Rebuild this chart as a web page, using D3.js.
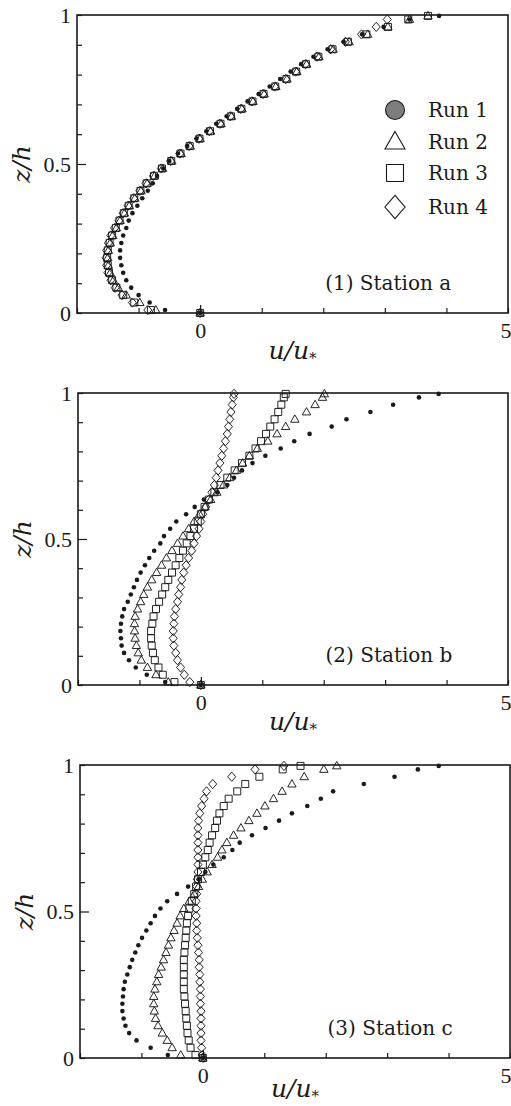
<!DOCTYPE html>
<html><head><meta charset="utf-8">
<script src="https://cdn.jsdelivr.net/npm/d3@7"></script>
<style>body{margin:0;background:#fff}svg{display:block}</style>
</head><body>
<svg id="c" width="511" height="1106"></svg>
<script>
// ---------------- data ----------------
const zLevels = [0, 0.01, 0.035, 0.06, 0.085, 0.11, 0.135, 0.16, 0.185, 0.21, 0.235, 0.26, 0.285, 0.31, 0.335, 0.36, 0.385, 0.41, 0.435, 0.46, 0.485, 0.51, 0.535, 0.56, 0.585, 0.61, 0.635, 0.66, 0.685, 0.71, 0.735, 0.76, 0.785, 0.81, 0.835, 0.86, 0.885, 0.91, 0.935, 0.96, 0.985, 0.997];
const runNames = ["Run 1", "Run 2", "Run 3", "Run 4"];
const stationLabels = ["(1) Station a", "(2) Station b", "(3) Station c"];
const xTicks = [-2, -1, 0, 1, 2, 3, 4, 5];
const xLabelledTicks = [0, 5];
const yTicks = [0, 0.1, 0.2, 0.3, 0.4, 0.5, 0.6, 0.7, 0.8, 0.9, 1];
const yLabelledTicks = [0, 0.5, 1];

// Station a
const a_run1 = [0, -0.57, -0.82, -1.0, -1.12, -1.2, -1.25, -1.28, -1.3, -1.3, -1.28, -1.25, -1.2, -1.16, -1.1, -1.02, -0.94, -0.85, -0.77, -0.7, -0.6, -0.5, -0.36, -0.21, -0.06, 0.1, 0.26, 0.43, 0.6, 0.77, 0.95, 1.13, 1.3, 1.47, 1.64, 1.84, 2.07, 2.33, 2.63, 2.98, 3.4, 3.88];
const a_run2 = [0, -0.72, -0.98, -1.2, -1.33, -1.41, -1.46, -1.49, -1.5, -1.49, -1.46, -1.42, -1.36, -1.3, -1.23, -1.15, -1.06, -0.96, -0.86, -0.74, -0.61, -0.46, -0.31, -0.16, 0.0, 0.17, 0.34, 0.51, 0.68, 0.86, 1.04, 1.23, 1.41, 1.57, 1.73, 1.93, 2.16, 2.42, 2.72, 3.05, 3.4, 3.7];
const a_run3 = [0, -0.8, -1.07, -1.25, -1.36, -1.43, -1.48, -1.5, -1.51, -1.5, -1.47, -1.43, -1.37, -1.31, -1.24, -1.16, -1.07, -0.97, -0.87, -0.75, -0.62, -0.47, -0.32, -0.17, -0.01, 0.16, 0.33, 0.5, 0.67, 0.85, 1.03, 1.22, 1.4, 1.56, 1.72, 1.92, 2.15, 2.4, 2.7, 3.05, 3.38, 3.7];
const a_run4 = [0, -0.85, -1.1, -1.27, -1.38, -1.45, -1.5, -1.52, -1.53, -1.52, -1.49, -1.45, -1.39, -1.32, -1.25, -1.17, -1.08, -0.98, -0.88, -0.76, -0.63, -0.48, -0.33, -0.18, -0.02, 0.15, 0.32, 0.49, 0.66, 0.84, 1.02, 1.21, 1.39, 1.55, 1.71, 1.9, 2.12, 2.36, 2.62, 2.86, 3.04, null];
// Station b
const b_run1 = [0, -0.58, -0.88, -1.06, -1.17, -1.25, -1.29, -1.3, -1.31, -1.3, -1.28, -1.25, -1.19, -1.14, -1.09, -1.04, -0.98, -0.91, -0.84, -0.76, -0.66, -0.6, -0.5, -0.4, -0.24, -0.1, 0.05, 0.27, 0.43, 0.54, 0.67, 0.84, 1.05, 1.3, 1.52, 1.77, 2.13, 2.37, 2.76, 3.13, 3.55, 3.87];
const b_run2 = [0, -0.53, -0.73, -0.87, -0.97, -1.02, -1.05, -1.07, -1.08, -1.08, -1.07, -1.03, -0.98, -0.93, -0.87, -0.8, -0.72, -0.64, -0.56, -0.47, -0.38, -0.29, -0.2, -0.11, -0.02, 0.07, 0.16, 0.26, 0.37, 0.47, 0.58, 0.68, 0.79, 0.92, 1.09, 1.24, 1.38, 1.53, 1.72, 1.86, 1.98, 2.01];
const b_run3 = [0, -0.43, -0.62, -0.69, -0.75, -0.78, -0.8, -0.81, -0.81, -0.79, -0.77, -0.73, -0.68, -0.63, -0.58, -0.53, -0.47, -0.41, -0.35, -0.29, -0.23, -0.17, -0.11, -0.05, 0.0, 0.06, 0.13, 0.22, 0.32, 0.43, 0.55, 0.67, 0.79, 0.89, 0.98, 1.06, 1.13, 1.2, 1.26, 1.31, 1.35, 1.38];
const b_run4 = [0, -0.18, -0.27, -0.33, -0.38, -0.41, -0.44, -0.45, -0.45, -0.44, -0.43, -0.41, -0.38, -0.36, -0.33, -0.31, -0.28, -0.24, -0.2, -0.15, -0.11, -0.07, -0.03, 0.0, 0.03, 0.08, 0.13, 0.18, 0.22, 0.25, 0.28, 0.31, 0.34, 0.37, 0.4, 0.43, 0.45, 0.47, 0.49, 0.51, 0.53, 0.54];
// Station c
const c_run1 = [0, -0.57, -0.85, -1.08, -1.2, -1.26, -1.29, -1.31, -1.31, -1.3, -1.29, -1.27, -1.23, -1.19, -1.15, -1.1, -1.05, -0.99, -0.92, -0.85, -0.78, -0.69, -0.58, -0.42, -0.24, -0.07, 0.04, 0.17, 0.34, 0.48, 0.6, 0.8, 1.02, 1.24, 1.45, 1.7, 1.92, 2.12, 2.62, 3.12, 3.5, 3.84];
const c_run2 = [0, -0.36, -0.5, -0.58, -0.66, -0.73, -0.77, -0.79, -0.8, -0.8, -0.78, -0.75, -0.72, -0.68, -0.64, -0.6, -0.56, -0.52, -0.47, -0.42, -0.37, -0.31, -0.22, -0.14, -0.07, -0.01, 0.07, 0.15, 0.24, 0.31, 0.39, 0.5, 0.62, 0.75, 0.88, 1.01, 1.15, 1.29, 1.45, 1.65, 1.97, 2.18];
const c_run3 = [0, -0.12, -0.2, -0.23, -0.25, -0.26, -0.27, -0.28, -0.29, -0.3, -0.31, -0.31, -0.31, -0.31, -0.31, -0.3, -0.29, -0.28, -0.27, -0.26, -0.24, -0.22, -0.18, -0.14, -0.11, -0.08, -0.03, 0.0, 0.04, 0.08, 0.11, 0.15, 0.2, 0.23, 0.27, 0.34, 0.42, 0.56, 0.69, 0.92, 1.3, 1.59];
const c_run4 = [0, -0.01, -0.02, -0.03, -0.03, -0.03, -0.03, -0.03, -0.04, -0.04, -0.04, -0.05, -0.05, -0.06, -0.06, -0.07, -0.08, -0.09, -0.1, -0.1, -0.11, -0.11, -0.11, -0.1, -0.1, -0.09, -0.08, -0.08, -0.08, -0.08, -0.08, -0.08, -0.08, -0.07, -0.05, -0.02, 0.02, 0.06, 0.16, 0.47, 0.85, 1.32];

const stations = [
  [a_run1, a_run2, a_run3, a_run4],
  [b_run1, b_run2, b_run3, b_run4],
  [c_run1, c_run2, c_run3, c_run4]
];

// ---------------- layout ----------------
const panels = [
  {x0: 77, x1: 508, y0: 15, y1: 313, tx: 46},
  {x0: 78, x1: 508, y0: 393, y1: 685, tx: 45},
  {x0: 80, x1: 510, y0: 765, y1: 1058, tx: 39}
];
const SERIF = "'Liberation Serif','Times New Roman',serif";
const DSERIF = "'DejaVu Serif',serif";
const INK = "#1a1a1a";

// custom symbol shapes (size = nominal width in px)
const shapes = {
  circle: {draw(ctx, s){ const r = s/2; ctx.moveTo(r,0); ctx.arc(0,0,r,0,2*Math.PI); }},
  triangle: {draw(ctx, s){ const h = s*0.88; ctx.moveTo(0,-h*0.6); ctx.lineTo(s/2,h*0.4); ctx.lineTo(-s/2,h*0.4); ctx.closePath(); }},
  square: {draw(ctx, s){ const h = s/2; ctx.rect(-h,-h,s,s); }},
  diamond: {draw(ctx, s){ const w = s*0.48, h = s*0.55; ctx.moveTo(0,-h); ctx.lineTo(w,0); ctx.lineTo(0,h); ctx.lineTo(-w,0); ctx.closePath(); }}
};
const runShapes = [shapes.circle, shapes.triangle, shapes.square, shapes.diamond];
const markerSize = [4.6, 8.4, 7, 8.4];

const svg = d3.select("#c");
svg.append("rect").attr("width",511).attr("height",1106).attr("fill","#fff");

panels.forEach((p, si) => {
  const xs = d3.scaleLinear().domain([-2, 5]).range([p.x0, p.x1]);
  const ys = d3.scaleLinear().domain([0, 1]).range([p.y1, p.y0]);
  const g = svg.append("g");

  // left axis (inner ticks)
  const ya = g.append("g").attr("transform", `translate(${p.x0},0)`)
    .call(d3.axisLeft(ys).tickValues(yTicks).tickSizeInner(-5).tickSizeOuter(0).tickPadding(6)
      .tickFormat(d => yLabelledTicks.some(v => Math.abs(v - d) < 1e-9) ? String(d) : ""));
  ya.select(".domain").remove();
  ya.selectAll(".tick line").attr("stroke", INK).attr("stroke-width", 1.2)
    .attr("x2", d => Math.abs(d - 0.5) < 1e-9 ? 9 : 5);
  ya.selectAll(".tick text").attr("font-family", SERIF).attr("font-size", 22).attr("fill", INK);

  // bottom axis (inner ticks)
  const xa = g.append("g").attr("transform", `translate(0,${p.y1})`)
    .call(d3.axisBottom(xs).tickValues(xTicks).tickSizeInner(-5).tickSizeOuter(0).tickPadding(9)
      .tickFormat(d => xLabelledTicks.includes(d) ? String(d) : ""));
  xa.select(".domain").remove();
  xa.selectAll(".tick line").attr("stroke", INK).attr("stroke-width", 1.2)
    .attr("y2", d => d === 0 ? -8 : -5);
  xa.selectAll(".tick text").attr("font-family", SERIF).attr("font-size", 22).attr("fill", INK)
    .attr("text-anchor", d => d === 5 ? "end" : "middle")
    .attr("dx", d => d === 5 ? (511 - p.x1) : 0);

  // frame
  g.append("rect").attr("x", p.x0).attr("y", p.y0).attr("width", p.x1 - p.x0).attr("height", p.y1 - p.y0)
    .attr("fill", "none").attr("stroke", INK).attr("stroke-width", 1.6);

  // data (draw runs 4..1 so dots end on top)
  [3, 2, 1, 0].forEach(ri => {
    const vals = stations[si][ri];
    const pts = zLevels.map((z, i) => ({u: vals[i], z})).filter(d => d.u !== null && d.u !== undefined);
    const sym = d3.symbol().type(runShapes[ri]).size(markerSize[ri]);
    g.append("g").selectAll("path").data(pts).join("path")
      .attr("transform", d => `translate(${xs(d.u)},${ys(d.z)})`)
      .attr("d", sym)
      .attr("fill", ri === 0 ? INK : "none")
      .attr("stroke", ri === 0 ? "none" : INK)
      .attr("stroke-width", 0.95);
  });

  // station label
  g.append("text").attr("x", xs(2.03)).attr("y", p.y1 - 23)
    .attr("font-family", DSERIF).attr("font-size", 20).attr("fill", INK)
    .text(stationLabels[si]);

  // axis titles
  const yl = g.append("text").attr("transform", `translate(${p.x0 - 47},${ys(0.5)}) rotate(-90)`)
    .attr("text-anchor", "middle").attr("font-family", DSERIF).attr("font-style", "italic")
    .attr("font-size", 25).attr("fill", INK);
  yl.append("tspan").text("z/h");

  const xl = g.append("text").attr("x", xs(1.5)).attr("y", p.y1 + p.tx)
    .attr("text-anchor", "middle").attr("font-family", DSERIF).attr("font-style", "italic")
    .attr("font-size", 25).attr("fill", INK);
  xl.append("tspan").text("u/u");
  xl.append("tspan").attr("font-size", 15).attr("dy", 4).text("*");

  // legend in first panel
  if (si === 0) {
    const legSym = [19, 20, 17, 21];
    const rowsY = [95, 127, 158, 192];
    runNames.forEach((name, ri) => {
      const cy = p.y0 + rowsY[ri];
      const cx = p.x1 - 113;
      g.append("path").attr("transform", `translate(${cx},${cy})`)
        .attr("d", d3.symbol().type(runShapes[ri]).size(legSym[ri]))
        .attr("fill", ri === 0 ? "#7d7d7d" : "none")
        .attr("stroke", INK).attr("stroke-width", 1.1);
      g.append("text").attr("x", p.x1 - 80).attr("y", cy + 7)
        .attr("font-family", DSERIF).attr("font-size", 20).attr("fill", INK).text(name);
    });
  }
});
</script>
</body></html>
